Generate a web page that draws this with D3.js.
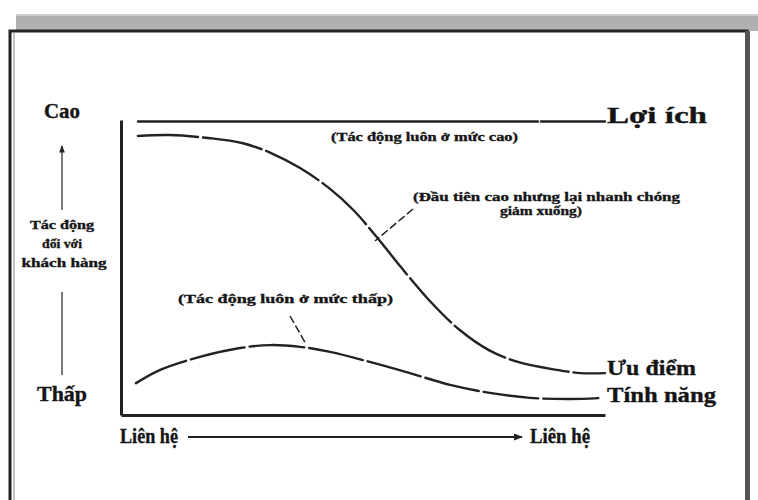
<!DOCTYPE html>
<html>
<head>
<meta charset="utf-8">
<script src="https://cdn.jsdelivr.net/npm/d3@7"></script>
<style>
  html, body { margin: 0; padding: 0; background: #fff; }
  svg { display: block; }
  text { font-family: "Liberation Serif", "DejaVu Serif", serif; font-weight: bold; fill: #151515; stroke: #151515; stroke-width: 0.35; }
</style>
</head>
<body>
<svg id="chart" width="758" height="500"></svg>
<script>
// ---- Data (x: progress of the relationship 0–100, y: impact on customer 0–100) ----
const benefitX   = [3.5, 100];
const benefitY   = [99.5, 99.5];

const advantageX = [3.5, 10, 18, 25, 31, 37, 43, 48, 53, 58, 64, 70, 76, 82, 90, 95, 100];
const advantageY = [94.6, 94.9, 93.9, 92.2, 88.8, 83.7, 76.9, 69.5, 60, 49.8, 38.3, 28.8, 22, 18, 15.3, 14.2, 14.2];

const featureX   = [3.1, 8.1, 16.3, 24.6, 30.8, 37, 43.2, 51.4, 59.7, 68, 76.2, 84.5, 92.8, 99.6];
const featureY   = [10.8, 15.3, 19.7, 22.7, 23.7, 23.1, 21.4, 18, 14.2, 10.2, 7.5, 5.8, 5.4, 5.8];

const seriesLabels = ["Lợi ích", "Ưu điểm", "Tính năng"];
const annotations  = ["(Tác động luôn ở mức cao)", "(Đầu tiên cao nhưng lại nhanh chóng", "giảm xuống)", "(Tác động luôn ở mức thấp)"];
const yAxisLabels  = ["Cao", "Thấp"];
const yAxisTitle   = ["Tác động", "đối với", "khách hàng"];
const xAxisLabels  = ["Liên hệ", "Liên hệ"];

// ---- Drawing ----
const svg = d3.select("#chart");
const ink = "#222";

// frame / page decoration
svg.append("rect").attr("x", 0).attr("y", 0).attr("width", 758).attr("height", 500).attr("fill", "#fff");
svg.append("rect").attr("x", 16).attr("y", 14).attr("width", 742).attr("height", 17).attr("fill", "#b0b0b0");
svg.append("rect").attr("x", 16).attr("y", 14).attr("width", 742).attr("height", 2).attr("fill", "#cfcfcf");
svg.append("rect").attr("x", 10).attr("y", 31).attr("width", 737).attr("height", 475)
   .attr("fill", "#fff").attr("stroke", ink).attr("stroke-width", 3);
svg.append("rect").attr("x", 745).attr("y", 31).attr("width", 5).attr("height", 469).attr("fill", "#555");
svg.append("line").attr("x1", 14).attr("x2", 14).attr("y1", 33).attr("y2", 500).attr("stroke", "#888").attr("stroke-width", 1);

// arrow markers
const defs = svg.append("defs");
defs.append("marker").attr("id", "arrow").attr("viewBox", "0 0 10 10")
  .attr("refX", 9).attr("refY", 5).attr("markerWidth", 4).attr("markerHeight", 4)
  .attr("markerUnits", "strokeWidth").attr("orient", "auto")
  .append("path").attr("d", "M0,1 L10,5 L0,9 Z").attr("fill", ink);
defs.append("marker").attr("id", "arrowSmall").attr("viewBox", "0 0 10 10")
  .attr("refX", 9).attr("refY", 5).attr("markerWidth", 7).attr("markerHeight", 6)
  .attr("markerUnits", "strokeWidth").attr("orient", "auto")
  .append("path").attr("d", "M0,1 L10,5 L0,9 Z").attr("fill", ink);

// scales
const x = d3.scaleLinear().domain([0, 100]).range([121, 605]);
const y = d3.scaleLinear().domain([0, 100]).range([415, 120]);

// axes (plain lines, no ticks)
const xAxis = d3.axisBottom(x).ticks(0).tickSize(0).tickSizeOuter(0);
const yAxis = d3.axisLeft(y).ticks(0).tickSize(0).tickSizeOuter(0);
svg.append("g").attr("transform", `translate(0,${y(0)})`).call(xAxis)
   .select(".domain").attr("stroke", ink).attr("stroke-width", 3);
svg.append("g").attr("transform", `translate(${x(0)},0)`).call(yAxis)
   .select(".domain").attr("stroke", ink).attr("stroke-width", 3);

// series
const line = d3.line().x(d => x(d[0])).y(d => y(d[1])).curve(d3.curveCatmullRom.alpha(0.5));
const series = [
  { xs: benefitX,   ys: benefitY,   dash: "400,3,600" },
  { xs: advantageX, ys: advantageY, dash: "60,5" },
  { xs: featureX,   ys: featureY,   dash: "55,5" }
];
series.forEach(s => {
  svg.append("path").datum(d3.zip(s.xs, s.ys)).attr("d", line)
    .attr("fill", "none").attr("stroke", ink).attr("stroke-width", 2.4)
    .attr("stroke-dasharray", s.dash).attr("stroke-linecap", "round");
});

// helper for fitted text
function txt(str, xPos, yPos, size, width, anchor) {
  const t = svg.append("text").attr("x", xPos).attr("y", yPos)
    .attr("font-size", size).attr("text-anchor", anchor || "start").text(str);
  if (width) t.attr("textLength", width).attr("lengthAdjust", "spacingAndGlyphs");
  return t;
}

// series labels at line ends
txt(seriesLabels[0], 607, y(benefitY[1]) + 2, 24, 100);
txt(seriesLabels[1], 607, 375, 22, 89);
txt(seriesLabels[2], 607, 402, 22, 109);

// annotations
txt(annotations[0], 331, 141, 13, 187);
txt(annotations[1], 413, 201, 13, 267);
txt(annotations[2], 541, 215, 13, 82, "middle");
txt(annotations[3], 178, 303, 13, 215);

// leader lines
svg.append("line").attr("x1", 413).attr("y1", 209).attr("x2", 375).attr("y2", 241)
  .attr("stroke", ink).attr("stroke-width", 1.5).attr("stroke-dasharray", "8,3");
svg.append("line").attr("x1", 290).attr("y1", 316).attr("x2", 306).attr("y2", 344)
  .attr("stroke", ink).attr("stroke-width", 1.5).attr("stroke-dasharray", "8,3");

// y-axis labels
txt(yAxisLabels[0], 62, 118, 20, 36, "middle");
txt(yAxisLabels[1], 62, 401, 21, 50, "middle");
txt(yAxisTitle[0], 62, 229, 13, 64, "middle");
txt(yAxisTitle[1], 62, 248, 13, 40, "middle");
txt(yAxisTitle[2], 64, 267, 13, 85, "middle");
svg.append("line").attr("x1", 62).attr("x2", 62).attr("y1", 210).attr("y2", 146)
  .attr("stroke", ink).attr("stroke-width", 1.2).attr("marker-end", "url(#arrowSmall)");
svg.append("line").attr("x1", 62).attr("x2", 62).attr("y1", 292).attr("y2", 375)
  .attr("stroke", ink).attr("stroke-width", 1.2);

// x-axis labels & arrow
txt(xAxisLabels[0], 120, 443, 21, 58);
txt(xAxisLabels[1], 530, 443, 21, 60);
svg.append("line").attr("x1", 188).attr("x2", 522).attr("y1", 437).attr("y2", 437)
  .attr("stroke", ink).attr("stroke-width", 2.2).attr("marker-end", "url(#arrow)");
</script>
</body>
</html>
